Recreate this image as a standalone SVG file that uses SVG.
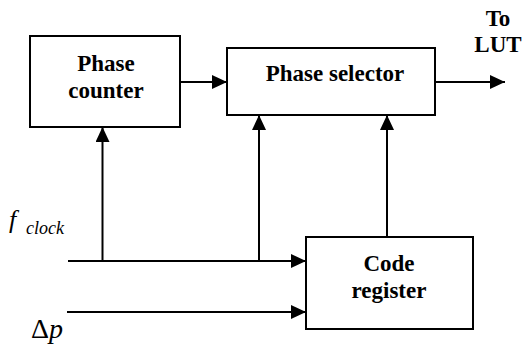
<svg xmlns="http://www.w3.org/2000/svg" width="529" height="347" viewBox="0 0 529 347">
  <style>
    .box { fill: #fff; stroke: #000; stroke-width: 2; }
    .wire { fill: none; stroke: #000; stroke-width: 2; }
    .lbl { font-family: 'Liberation Serif', 'Times New Roman', Times, 'DejaVu Serif', serif; font-weight: bold; font-size: 23px; fill: #000; text-anchor: middle; }
    .math { font-family: 'Liberation Serif', 'Times New Roman', Times, 'DejaVu Serif', serif; fill: #000; }
  </style>
  <defs>
    <marker id="arrow" viewBox="0 0 15 14" refX="15" refY="7" markerWidth="15" markerHeight="14" markerUnits="userSpaceOnUse" orient="auto">
      <path d="M0,0 L15,7 L0,14 Z" fill="#000"/>
    </marker>
  </defs>
  <rect width="529" height="347" fill="#fff"/>

  <g id="connectors">
    <line class="wire" x1="180" y1="82" x2="227" y2="82" marker-end="url(#arrow)"/>
    <line class="wire" x1="435" y1="82" x2="505" y2="82" marker-end="url(#arrow)"/>
    <line class="wire" x1="68" y1="261" x2="306" y2="261" marker-end="url(#arrow)"/>
    <line class="wire" x1="67" y1="312" x2="306" y2="312" marker-end="url(#arrow)"/>
    <line class="wire" x1="102.5" y1="261" x2="102.5" y2="127" marker-end="url(#arrow)"/>
    <line class="wire" x1="259" y1="261" x2="259" y2="115" marker-end="url(#arrow)"/>
    <line class="wire" x1="387" y1="237" x2="387" y2="115" marker-end="url(#arrow)"/>
  </g>

  <g id="phase-counter">
    <rect class="box" x="30" y="36" width="150" height="91"/>
    <text class="lbl" x="106" y="70.5">Phase</text>
    <text class="lbl" x="106" y="97.5">counter</text>
  </g>

  <g id="phase-selector">
    <rect class="box" x="227" y="48" width="208" height="67"/>
    <text class="lbl" x="335" y="81">Phase selector</text>
  </g>

  <g id="code-register">
    <rect class="box" x="306" y="237" width="167" height="92"/>
    <text class="lbl" x="389" y="270.5">Code</text>
    <text class="lbl" x="389" y="298">register</text>
  </g>

  <g id="output-label">
    <text class="lbl" x="498" y="26">To</text>
    <text class="lbl" x="498" y="52">LUT</text>
  </g>

  <g id="clock-label">
    <text class="math" x="9" y="228" font-size="26" font-style="italic">f</text>
    <text class="math" x="26" y="234" font-size="18" font-style="italic">clock</text>
  </g>

  <g id="delta-p-label">
    <text class="math" x="31" y="338" font-size="28">Δ<tspan font-style="italic">p</tspan></text>
  </g>
</svg>
